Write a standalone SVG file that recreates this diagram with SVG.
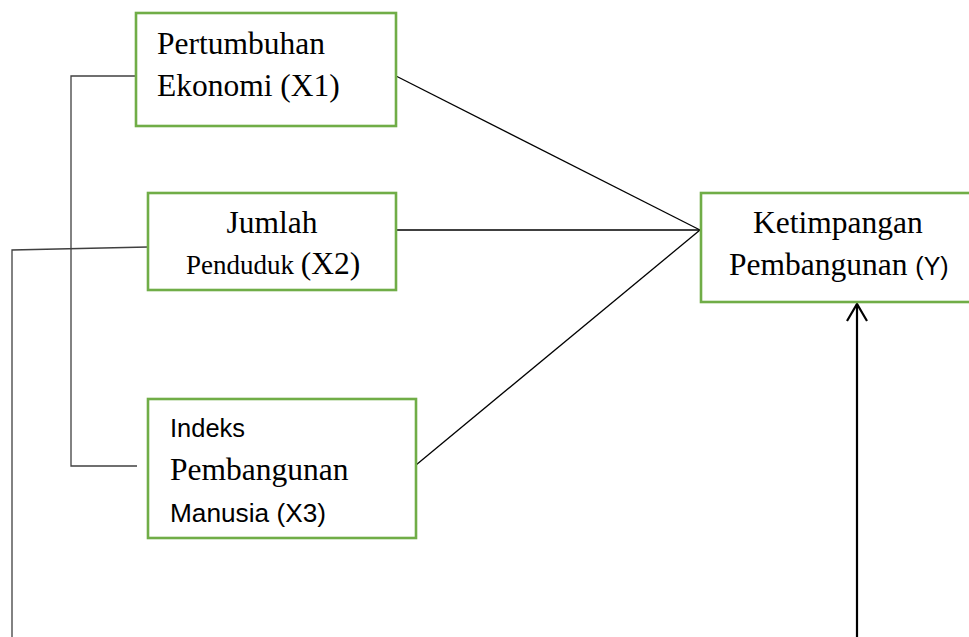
<svg xmlns="http://www.w3.org/2000/svg" width="969" height="637" viewBox="0 0 969 637">
<style>
.box{fill:#fff;stroke:#70AD47;stroke-width:2.6}
.serif{font-family:"Liberation Serif","Times New Roman",serif;fill:#000}
.sans{font-family:"Liberation Sans",Arial,sans-serif;fill:#000}
.c{fill:none;stroke:#000;stroke-width:1.3}
.g{fill:none;stroke:#404040;stroke-width:1.3}
</style>
<rect width="969" height="637" fill="#fff"/>
<g id="connectors">
<polyline class="g" points="136,76 71,76 71,466 137,466"/>
<polyline class="g" points="148,247 12,250 12,637"/>
<line class="c" x1="396" y1="76" x2="700" y2="230"/>
<line class="c" x1="396" y1="230" x2="700" y2="230"/>
<line class="c" x1="416" y1="465" x2="700" y2="230"/>
<line x1="857" y1="637" x2="857" y2="304" stroke="#000" stroke-width="2.2"/>
<polyline points="847,321 857,304 867,321" fill="none" stroke="#000" stroke-width="2.2"/>
</g>
<g id="x1">
<rect class="box" x="136" y="13" width="260" height="113"/>
<text class="serif" font-size="31.5" x="157" y="54">Pertumbuhan</text>
<text class="serif" font-size="31.5" x="157" y="96">Ekonomi (X1)</text>
</g>
<g id="x2">
<rect class="box" x="148" y="193" width="248" height="97"/>
<text class="serif" font-size="31.5" x="272" y="233" text-anchor="middle">Jumlah</text>
<text class="serif" x="186" y="274"><tspan font-size="27">Penduduk </tspan><tspan font-size="31.5">(X2)</tspan></text>
</g>
<g id="x3">
<rect class="box" x="148" y="399" width="268" height="139"/>
<text class="sans" font-size="25" x="170" y="437" textLength="75" lengthAdjust="spacingAndGlyphs">Indeks</text>
<text class="serif" font-size="31.5" x="170" y="480">Pembangunan</text>
<text class="sans" font-size="25.5" x="170" y="522" textLength="156" lengthAdjust="spacingAndGlyphs">Manusia (X3)</text>
</g>
<g id="y">
<rect class="box" x="701" y="193" width="280" height="109"/>
<text class="serif" font-size="31.5" x="753" y="233">Ketimpangan</text>
<text x="729" y="275"><tspan class="serif" font-size="31.5">Pembangunan </tspan><tspan class="sans" font-size="25">(Y)</tspan></text>
</g>
</svg>
